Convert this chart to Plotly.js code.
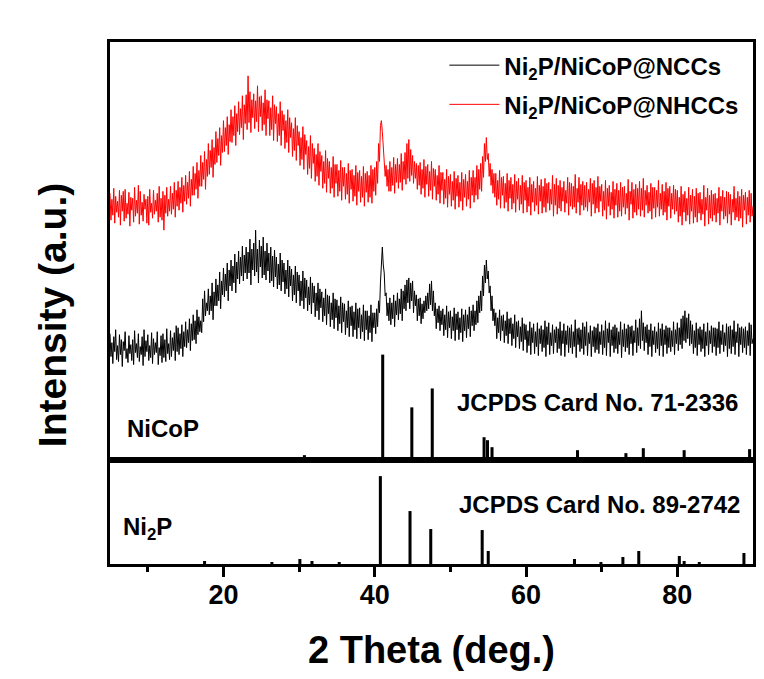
<!DOCTYPE html>
<html>
<head>
<meta charset="utf-8">
<script src="https://cdn.plot.ly/plotly-3.0.1.min.js"></script>
<style>html,body{margin:0;padding:0;background:#fff;}#chart{width:764px;height:679px;}</style>
</head>
<body>
<div id="chart"></div>
<script>
// 2θ scan grid (degrees)
const thetaStart = 5;
const thetaStep = 0.125;

// Sample patterns (arbitrary intensity units, offset stacked), one value per 0.125°, rows = 1°
const ncc = [
127,104,118,97,124,109,131,101,
115,99,126,106,121,94,119,110,
129,102,112,98,125,107,116,100,
121,96,130,108,117,103,127,99,
114,106,124,95,131,104,120,109,
126,100,115,103,128,97,122,106,
118,108,129,96,113,105,125,98,
127,103,121,99,132,107,117,101,
130,104,123,110,128,100,135,109,
133,106,127,112,136,104,129,114,
139,113,131,118,142,110,137,120,
146,121,140,117,151,126,144,129,
140,128,162,139,170,145,158,150,
172,146,165,150,178,141,169,155,
182,155,176,160,189,152,180,166,
193,164,187,170,198,160,191,175,
201,170,195,178,207,168,199,182,
210,177,204,185,215,180,206,188,
214,182,209,188,222,176,212,191,
218,185,231,189,212,178,221,194,
215,183,224,186,210,181,218,190,
208,178,214,180,205,174,211,184,
204,172,197,176,208,170,201,179,
198,167,191,172,201,164,195,175,
192,160,186,166,195,158,189,170,
186,155,180,160,190,152,183,163,
181,150,174,156,184,147,178,158,
175,144,168,150,178,141,172,153,
169,139,163,145,172,136,166,147,
165,134,158,141,168,132,162,143,
161,130,155,137,164,128,158,139,
157,126,150,133,160,124,154,135,
155,124,149,131,158,122,152,133,
153,122,146,129,156,120,150,131,
150,121,145,128,156,119,148,133,
148,127,152,134,160,148,178,192,
214,196,188,165,168,145,158,140,
163,136,158,142,166,134,160,146,
168,141,162,147,172,140,170,152,
176,150,181,158,183,152,178,160,
180,148,170,155,166,140,162,145,
163,137,157,142,160,148,165,150,
168,152,177,156,180,150,170,145,
158,132,152,138,155,130,150,136,
152,125,146,131,155,123,149,133,
150,122,144,130,153,120,147,131,
149,121,143,128,152,119,146,130,
151,123,146,132,154,124,150,135,
156,130,150,136,160,138,165,148,
170,150,185,165,196,178,201,182,
190,168,175,150,165,140,152,135,
148,122,143,128,151,120,145,130,
146,118,140,125,149,117,142,127,
143,115,137,122,146,113,139,124,
140,112,134,119,143,110,137,121,
136,108,130,115,139,106,133,118,
137,107,129,114,138,105,132,117,
135,109,131,113,140,104,134,116,
138,106,128,115,136,107,131,118,
134,108,132,112,139,105,130,117,
137,104,130,116,135,108,133,113,
136,107,129,114,141,103,132,116,
133,109,131,112,138,106,134,115,
139,105,128,117,135,104,130,114,
134,108,133,111,137,107,129,116,
136,106,130,113,140,105,132,118,
138,104,131,115,134,108,136,112,
133,107,129,116,139,103,131,114,
137,109,132,113,136,106,134,117,
135,105,130,118,141,108,133,115,
142,112,150,120,138,110,134,118,
136,106,131,114,137,104,130,116,
134,108,129,112,138,105,132,115,
137,104,131,116,135,107,133,113,
133,109,130,114,139,106,131,117,
138,110,133,116,142,112,145,120,
150,118,143,122,147,115,140,117,
136,107,130,113,138,105,132,116,
134,109,131,112,137,104,129,115,
138,106,130,117,135,108,133,114,
133,105,132,113,139,107,130,116,
136,109,128,115,137,104,134,112,
135,107,131,114,140,106,129,118,
137,104,133,116,134,108,132,113,
134,106,130,115,138,105,136,117,
122
];
const nhcc = [
268,241,262,246,273,238,265,249,
260,244,271,236,266,250,270,240,
272,243,258,247,269,235,264,251,
263,239,274,245,261,248,276,237,
270,246,259,240,267,252,262,238,
265,236,272,249,258,243,271,247,
261,250,268,239,275,244,263,241,
270,231,266,248,274,245,262,250,
275,247,268,252,279,244,271,255,
280,251,274,258,284,249,276,260,
286,257,279,263,290,255,282,266,
295,266,288,272,299,263,291,275,
306,275,299,282,310,272,302,285,
318,287,311,294,322,284,314,297,
330,299,323,306,334,296,326,309,
341,310,334,316,345,307,337,320,
352,319,345,326,356,316,348,330,
360,327,353,334,366,322,357,338,
367,332,386,339,370,329,362,344,
368,333,361,340,376,330,365,345,
366,331,359,337,372,326,362,343,
361,326,354,332,366,321,357,338,
355,320,348,326,360,316,351,331,
347,313,341,319,352,309,344,324,
339,305,333,311,344,301,336,316,
330,296,324,302,335,292,327,307,
321,287,315,293,326,283,318,298,
313,280,307,285,318,276,310,290,
306,273,300,278,311,269,303,283,
300,268,294,273,305,264,297,278,
297,265,291,270,301,261,294,275,
294,262,288,267,298,258,291,272,
292,260,286,265,296,256,289,270,
291,259,285,264,295,255,288,269,
290,259,286,264,296,258,292,270,
294,266,300,278,318,300,336,341,
330,312,300,285,296,275,292,270,
300,270,294,276,304,268,297,279,
303,273,297,279,308,271,300,282,
309,277,318,283,322,280,312,286,
306,278,300,283,298,272,296,276,
299,267,292,273,302,264,295,277,
297,265,290,271,300,262,293,275,
292,261,286,267,296,258,289,271,
289,257,282,263,292,254,285,267,
287,255,280,261,290,252,283,265,
286,254,279,260,289,251,282,264,
287,255,280,262,291,253,284,266,
291,259,284,266,296,262,292,272,
298,270,305,284,318,300,324,302,
308,285,298,276,292,268,288,264,
288,256,281,262,291,253,284,266,
285,253,278,259,288,250,281,263,
284,252,277,258,287,249,280,262,
283,251,276,257,286,248,279,261,
281,249,274,255,284,246,277,259,
280,250,273,256,285,247,276,260,
282,248,275,254,283,249,278,258,
279,251,272,257,286,245,277,256,
283,247,276,253,281,250,274,260,
280,249,271,258,284,246,279,255,
278,252,275,254,287,248,273,259,
284,246,277,256,280,251,276,254,
279,250,272,259,283,245,278,257,
281,248,274,253,285,249,275,260,
277,245,270,251,281,242,273,255,
276,246,269,252,280,243,272,256,
278,244,271,250,279,245,274,254,
275,247,268,253,282,241,270,257,
279,243,272,249,277,246,273,252,
280,245,273,251,283,244,271,256,
276,248,269,250,278,242,274,253,
274,244,271,254,281,245,268,252,
277,246,270,249,279,241,273,255,
275,243,268,252,276,247,272,250,
271,239,264,245,275,236,267,249,
270,240,263,246,274,237,266,250,
272,238,265,244,273,239,268,248,
269,241,262,247,276,235,264,251,
273,237,266,243,271,240,267,246,
268,239,263,248,274,236,265,250,
271,242,264,245,270,238,269,247,
267,236,262,249,275,241,263,244,
270,240,265,243,272,234,266,251,
269,237,264,246,271,239,268,245,
255
];

// Reference patterns
const nicopPos = [17.6, 26.6, 30.7, 32.1, 35.4, 41.05, 44.9, 47.6, 54.45, 54.9, 55.5, 66.8, 70.4, 73.2, 75.5, 80.9, 81.5, 83.3, 89.3, 89.55];
const nicopInt = [3, 2, 5, 3, 2, 106, 53, 72, 23, 20, 13, 10, 3, 7, 12, 10, 3, 3, 3, 11];
const ni2pPos = [17.5, 26.4, 30.1, 31.7, 35.3, 40.74, 44.66, 47.4, 54.2, 55.0, 66.4, 69.9, 72.8, 74.9, 80.26, 80.9, 82.9, 88.8];
const ni2pInt = [3, 2, 5, 3, 2, 88, 53, 35, 34, 13, 5, 2, 7, 13, 8, 3, 2, 11];

const seriesNames = ['Ni<sub>2</sub>P/NiCoP@NCCs', 'Ni<sub>2</sub>P/NiCoP@NHCCs'];
const xTickVals = [20, 40, 60, 80];
const xMinorVals = [10, 30, 50, 70];

const theta = ncc.map((_, i) => +(thetaStart + i * thetaStep).toFixed(3));

const FONT = 'Liberation Sans, Arial, Helvetica, sans-serif';

const traces = [
  {x: theta, y: ncc, type: 'scatter', mode: 'lines', name: seriesNames[0],
   xaxis: 'x2', yaxis: 'y2', line: {color: '#000000', width: 1}, legendgroup: 'a'},
  {x: theta, y: nhcc, type: 'scatter', mode: 'lines', name: seriesNames[1],
   xaxis: 'x2', yaxis: 'y2', line: {color: '#ff0000', width: 1}, legendgroup: 'b'},
  {x: nicopPos, y: nicopInt, type: 'bar', width: 0.4, xaxis: 'x2', yaxis: 'y2',
   marker: {color: '#000', line: {width: 0}}, showlegend: false},
  {x: ni2pPos, y: ni2pInt, type: 'bar', width: 0.4, xaxis: 'x', yaxis: 'y',
   marker: {color: '#000', line: {width: 0}}, showlegend: false}
];

const split = 0.199;
const layout = {
  width: 764, height: 679,
  margin: {l: 110, r: 11, t: 42, b: 115, pad: 0},
  paper_bgcolor: '#fff', plot_bgcolor: '#fff',
  font: {family: FONT, color: '#000', size: 24, weight: 'bold'},
  showlegend: true,
  barmode: 'overlay',
  legend: {x: 0.52, y: 0.998, xanchor: 'left', yanchor: 'top', bgcolor: 'rgba(0,0,0,0)',
           font: {family: FONT, size: 24, weight: 'bold', color: '#000'},
           traceorder: 'grouped', tracegroupgap: 5, itemwidth: 50},
  xaxis: {domain: [0, 1], anchor: 'y', range: [5, 90], showline: true, linewidth: 3, linecolor: '#000',
          mirror: true, showgrid: false, zeroline: false, ticks: 'outside', ticklen: 10, tickwidth: 3,
          tickcolor: '#000', tickvals: xTickVals, ticktext: xTickVals.map(String),
          minor: {tickvals: xMinorVals, ticks: 'outside', ticklen: 5, tickwidth: 3, tickcolor: '#000', showgrid: false},
          tickfont: {family: FONT, size: 27, weight: 'bold', color: '#000'}, ticklabelstandoff: -5,
          title: {text: '2 Theta (deg.)', font: {family: FONT, size: 38, weight: 'bold', color: '#000'}, standoff: 27}},
  xaxis2: {domain: [0, 1], anchor: 'y2', matches: 'x', range: [5, 90], showline: true, linewidth: 3, linecolor: '#000',
           mirror: true, showgrid: false, zeroline: false, ticks: '', showticklabels: false},
  yaxis: {domain: [0, split], anchor: 'x', range: [0, 104], showline: true, linewidth: 3, linecolor: '#000',
          mirror: true, showgrid: false, zeroline: false, ticks: '', showticklabels: false},
  yaxis2: {domain: [split, 1], anchor: 'x2', range: [0, 420], showline: true, linewidth: 3, linecolor: '#000',
           mirror: true, showgrid: false, zeroline: false, ticks: '', showticklabels: false},
  annotations: [
    {text: 'Intensity (a.u.)', xref: 'paper', yref: 'paper', x: -0.09, y: 0.477, xanchor: 'center', yanchor: 'middle',
     textangle: -90, showarrow: false, font: {family: FONT, size: 39, weight: 'bold', color: '#000'}},
    {text: 'NiCoP', xref: 'x2', yref: 'y2', x: 7.0, y: 32, xanchor: 'left', yanchor: 'middle', showarrow: false},
    {text: 'JCPDS Card No. 71-2336', xref: 'x2', yref: 'y2', x: 50.6, y: 58, xanchor: 'left', yanchor: 'middle', showarrow: false},
    {text: 'Ni<sub>2</sub>P', xref: 'x', yref: 'y', x: 6.4, y: 36, xanchor: 'left', yanchor: 'middle', showarrow: false},
    {text: 'JCPDS Card No. 89-2742', xref: 'x', yref: 'y', x: 50.9, y: 60, xanchor: 'left', yanchor: 'middle', showarrow: false}
  ]
};

Plotly.newPlot('chart', traces, layout, {displayModeBar: false, staticPlot: true});
</script>
</body>
</html>
